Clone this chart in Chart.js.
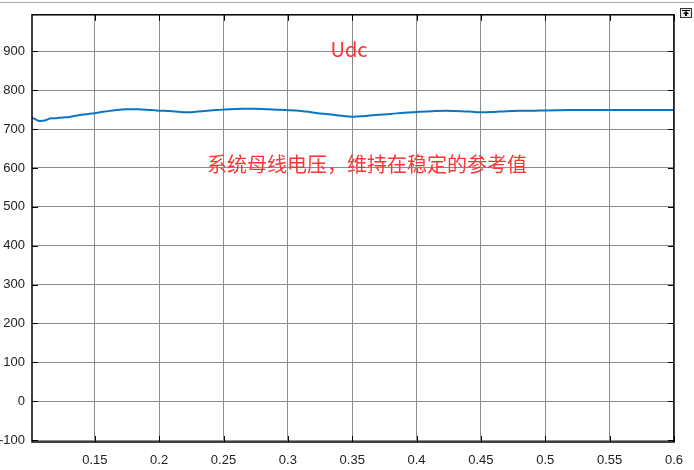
<!DOCTYPE html>
<html>
<head>
<meta charset="utf-8">
<script src="https://cdn.jsdelivr.net/npm/chart.js@4"></script>
<style>
    html, body { margin: 0; padding: 0; background: #fff; }
    #wrap { width: 694px; height: 470px; }
</style>
</head>
<body>
<div id="wrap"><canvas id="udcChart" width="694" height="470"></canvas></div>
<script>
// Udc bus voltage
const times = [0.1012, 0.104, 0.107, 0.111, 0.115, 0.12, 0.125, 0.13, 0.138, 0.145, 0.15, 0.158, 0.167, 0.175, 0.183,
    0.19, 0.198, 0.21, 0.222, 0.23, 0.237, 0.245, 0.255, 0.265, 0.275, 0.285, 0.298, 0.306, 0.314, 0.323, 0.332,
    0.342, 0.35, 0.358, 0.368, 0.38, 0.39, 0.4, 0.412, 0.423, 0.435, 0.445, 0.452, 0.46, 0.47, 0.48, 0.49, 0.5,
    0.52, 0.54, 0.56, 0.58, 0.6];
const udc = [729, 725, 721, 722, 727, 728, 730, 731, 736, 739, 741, 745, 749, 751, 751,
    750, 748, 746, 743, 745, 747, 749, 751, 752, 752, 751, 749, 748, 745, 741, 738,
    734, 732, 733, 736, 739, 742, 744, 746, 747, 746, 744, 743, 744, 746, 747, 747, 748,
    749, 749, 749, 749, 749];
const xTicks = [0.15, 0.2, 0.25, 0.3, 0.35, 0.4, 0.45, 0.5, 0.55, 0.6];
const yTicks = [-100, 0, 100, 200, 300, 400, 500, 600, 700, 800, 900];

const notes = [
    { text: 'Udc', x: 0.3475, y: 906 },
    { text: '系统母线电压，维持在稳定的参考值', x: 0.3615, y: 609 }
];

// frame, inward ticks, notes and the little scope button
const scopeDecor = {
    id: 'scopeDecor',
    afterDraw(chart) {
        const { ctx, chartArea: a, scales } = chart;
        ctx.save();
        ctx.strokeStyle = '#000';
        ctx.lineWidth = 1;
        yTicks.forEach(v => {
            const py = Math.round(scales.y.getPixelForValue(v)) + 0.5;
            ctx.beginPath();
            ctx.moveTo(a.left, py); ctx.lineTo(a.left + 6, py);
            ctx.moveTo(a.right - 6, py); ctx.lineTo(a.right, py);
            ctx.stroke();
        });
        xTicks.forEach(v => {
            const px = Math.round(scales.x.getPixelForValue(v)) + 0.5;
            ctx.beginPath();
            ctx.moveTo(px, a.top); ctx.lineTo(px, a.top + 6);
            ctx.moveTo(px, a.bottom); ctx.lineTo(px, a.bottom - 6);
            ctx.stroke();
        });
        ctx.lineWidth = 1.5;
        ctx.strokeRect(a.left, a.top, a.right - a.left, a.bottom - a.top);

        // notes
        ctx.fillStyle = '#ff3333';
        ctx.font = '20px "Noto Sans CJK SC", "Noto Sans", sans-serif';
        ctx.textAlign = 'center';
        ctx.textBaseline = 'middle';
        notes.forEach(n => {
            ctx.fillText(n.text, scales.x.getPixelForValue(n.x), scales.y.getPixelForValue(n.y));
        });

        // top rule and button
        ctx.strokeStyle = '#aaa';
        ctx.lineWidth = 1;
        ctx.beginPath();
        ctx.moveTo(0, 2.5); ctx.lineTo(chart.width, 2.5);
        ctx.stroke();
        ctx.fillStyle = '#e6e6e6';
        ctx.fillRect(680, 8, 12, 9);
        ctx.strokeStyle = '#333';
        ctx.strokeRect(680.5, 8.5, 11, 9);
        ctx.fillStyle = '#000';
        ctx.fillRect(682, 10, 8, 1);
        ctx.beginPath();
        ctx.moveTo(686, 11); ctx.lineTo(683, 14); ctx.lineTo(689, 14);
        ctx.closePath();
        ctx.fill();
        ctx.fillRect(685, 14, 2, 2);
        ctx.restore();
    }
};

const ctx = document.getElementById('udcChart').getContext('2d');
new Chart(ctx, {
    type: 'line',
    data: {
        datasets: [{
            label: 'Udc',
            data: times.map((t, i) => ({ x: t, y: udc[i] })),
            borderColor: '#0a75c2',
            borderWidth: 2,
            pointRadius: 0,
            tension: 0.4,
            fill: false
        }]
    },
    options: {
        responsive: false,
        animation: false,
        devicePixelRatio: 1,
        layout: { padding: { top: 14, right: 18, left: 0, bottom: 0 } },
        plugins: {
            legend: { display: false },
            tooltip: { enabled: false }
        },
        scales: {
            x: {
                type: 'linear',
                min: 0.1012,
                max: 0.6,
                afterBuildTicks: s => { s.ticks = xTicks.map(v => ({ value: v })); },
                afterFit: s => { s.height = 28; },
                grid: { color: '#8c8c8c', lineWidth: 1, drawTicks: false },
                border: { display: false },
                ticks: {
                    padding: 11,
                    color: '#222',
                    font: { family: '"Liberation Sans", Arial, sans-serif', size: 13 },
                    maxRotation: 0,
                    callback: v => String(v)
                }
            },
            y: {
                min: -105,
                max: 994,
                afterBuildTicks: s => { s.ticks = yTicks.map(v => ({ value: v })); },
                afterFit: s => { s.width = 32; },
                grid: { color: '#8c8c8c', lineWidth: 1, drawTicks: false },
                border: { display: false },
                ticks: {
                    padding: 7,
                    color: '#222',
                    font: { family: '"Liberation Sans", Arial, sans-serif', size: 13 },
                    callback: v => String(v)
                }
            }
        }
    },
    plugins: [scopeDecor]
});
</script>
</body>
</html>
